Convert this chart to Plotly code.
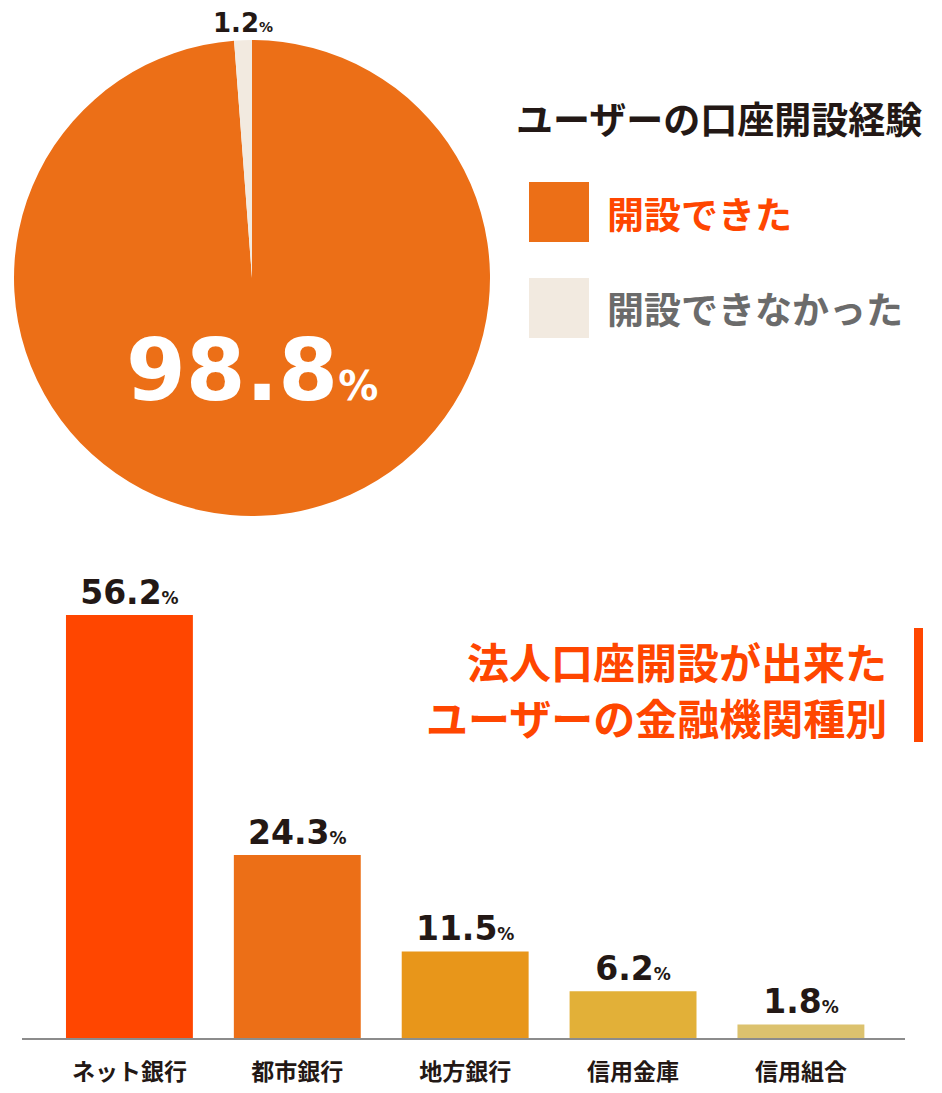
import plotly.graph_objects as go

# pie: account opening result
pie_labels = ["開設できた", "開設できなかった"]
pie_values = [98.8, 1.2]
pie_colors = ["#EC6F17", "#F2EAE0"]
pie_title = "ユーザーの口座開設経験"

# bars: bank type
bank_types = ["ネット銀行", "都市銀行", "地方銀行", "信用金庫", "信用組合"]
bank_shares = [56.2, 24.3, 11.5, 6.2, 1.8]
bar_colors = ["#FF4600", "#EC6F17", "#E8961A", "#E2B038", "#DCC26E"]
bar_title = ["法人口座開設が出来た", "ユーザーの金融機関種別"]

W, H = 942, 1093
JP = "Noto Sans CJK JP"
NUM = "DejaVu Sans"
DARK = "#231815"


def px(x):
    return x / W


def py(y):
    return (H - y) / H


def pct(v, small):
    return f"{v}<span style='font-size:{small}px'>%</span>"


fig = go.Figure()

fig.add_trace(
    go.Pie(
        labels=pie_labels,
        values=pie_values,
        marker=dict(colors=pie_colors, line=dict(width=0)),
        sort=False,
        direction="clockwise",
        textinfo="none",
        hoverinfo="label+percent",
        domain=dict(x=[px(14), px(490)], y=[py(516), py(40)]),
        showlegend=False,
    )
)

fig.add_trace(
    go.Bar(
        x=bank_types,
        y=bank_shares,
        marker=dict(color=bar_colors, line=dict(width=0)),
        width=0.756,
        text=[pct(v, 17) for v in bank_shares],
        texttemplate="%{text}",
        textposition="outside",
        textfont=dict(family=NUM, size=33, color=DARK, weight="bold"),
        cliponaxis=False,
        showlegend=False,
    )
)

annotations = [
    dict(x=px(252), y=py(370), text=pct(pie_values[0], 40), xanchor="center",
         font=dict(family=NUM, size=86, color="white", weight="bold")),
    dict(x=px(243), y=py(23), text=pct(pie_values[1], 14), xanchor="center",
         font=dict(family=NUM, size=26, color=DARK, weight="bold")),
    dict(x=px(514), y=py(118), text=pie_title, xanchor="left",
         font=dict(family=JP, size=37, color=DARK, weight="bold")),
    dict(x=px(605), y=py(213), text=pie_labels[0], xanchor="left",
         font=dict(family=JP, size=37, color="#FF4600", weight="bold")),
    dict(x=px(605), y=py(308), text=pie_labels[1], xanchor="left",
         font=dict(family=JP, size=37, color="#6B6B6B", weight="bold")),
    dict(x=px(889), y=py(661), text=bar_title[0], xanchor="right",
         font=dict(family=JP, size=42, color="#FF4600", weight="bold")),
    dict(x=px(889), y=py(716), text=bar_title[1], xanchor="right",
         font=dict(family=JP, size=42, color="#FF4600", weight="bold")),
]
for a in annotations:
    a.update(xref="paper", yref="paper", showarrow=False, yanchor="middle")

shapes = [
    dict(type="rect", xref="paper", yref="paper", x0=px(529), x1=px(589),
         y0=py(242), y1=py(182), fillcolor=pie_colors[0], line_width=0),
    dict(type="rect", xref="paper", yref="paper", x0=px(529), x1=px(589),
         y0=py(338), y1=py(278), fillcolor=pie_colors[1], line_width=0),
    dict(type="rect", xref="paper", yref="paper", x0=px(914), x1=px(923),
         y0=py(742), y1=py(628), fillcolor="#FF4600", line_width=0),
]

fig.update_layout(
    width=W,
    height=H,
    margin=dict(l=0, r=0, t=0, b=0),
    paper_bgcolor="white",
    plot_bgcolor="white",
    annotations=annotations,
    shapes=shapes,
    xaxis=dict(
        domain=[px(22), px(905)],
        range=[-0.64, 4.62],
        showline=True,
        linecolor="#8C8C8C",
        linewidth=2,
        showgrid=False,
        ticks="",
        ticklabelstandoff=12,
        tickfont=dict(family=JP, size=23, color=DARK, weight="bold"),
    ),
    yaxis=dict(
        domain=[py(1038), py(511)],
        range=[0, 70],
        visible=False,
    ),
)

fig.write_html(
    "out.html",
    config={"displayModeBar": False},
    post_script="document.body.style.margin='0';",
)
